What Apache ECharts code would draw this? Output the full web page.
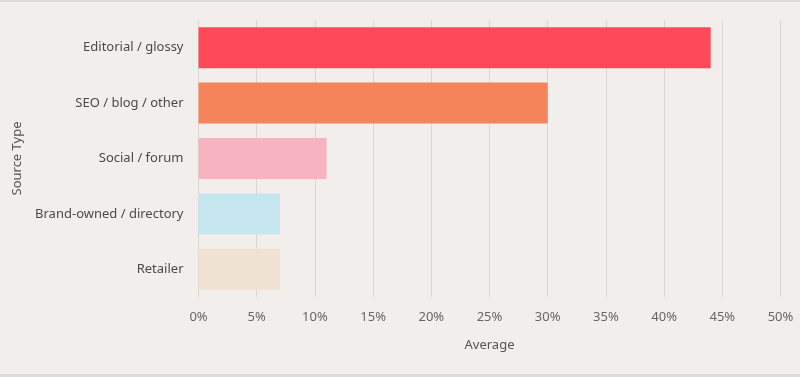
<!DOCTYPE html>
<html>
<head>
<meta charset="utf-8">
<script src="https://cdn.jsdelivr.net/npm/echarts@6/dist/echarts.min.js"></script>
<style>
  html, body { margin: 0; padding: 0; background: #dedbd8; }
  #main { width: 800px; height: 372px; margin-top: 2px; background: #f2eeeb; }
</style>
</head>
<body>
<div id="main"></div>
<script>
// data, top to bottom as shown
const categories = ['Editorial / glossy', 'SEO / blog / other', 'Social / forum', 'Brand-owned / directory', 'Retailer'];
const values = [44, 30, 11, 7, 7];
const barColors = ['#fe4a58', '#f6845a', '#f7b3c0', '#c5e6ee', '#f0e2d2'];
const xTicks = { min: 0, max: 50, interval: 5 };

const chart = echarts.init(document.getElementById('main'));

const option = {
  backgroundColor: '#f2eeeb',
  animation: false,
  grid: { left: 198.5, right: 19.5, top: 18, bottom: 77 },
  xAxis: {
    type: 'value',
    min: xTicks.min,
    max: xTicks.max,
    interval: xTicks.interval,
    name: 'Average',
    nameLocation: 'middle',
    nameGap: 42,
    nameTextStyle: { fontFamily: 'Noto Sans', fontSize: 13, color: '#555' },
    axisLine: { show: false },
    axisTick: { show: false },
    axisLabel: { formatter: '{value}%', fontFamily: 'Noto Sans', fontSize: 13, color: '#666', margin: 14 },
    splitLine: { lineStyle: { color: '#d9d6d3', width: 1 } }
  },
  yAxis: {
    type: 'category',
    inverse: true,
    data: categories,
    name: 'Source Type',
    nameLocation: 'middle',
    nameGap: 172,
    nameRotate: 90,
    nameTextStyle: { fontFamily: 'Noto Sans', fontSize: 13, color: '#555' },
    axisLine: { show: false },
    axisTick: { show: false },
    axisLabel: { fontFamily: 'Noto Sans', fontSize: 13, color: '#4a4a4a', margin: 15 }
  },
  series: [{
    type: 'bar',
    data: values.map((v, i) => ({ value: v, itemStyle: { color: barColors[i] } })),
    barCategoryGap: '26%'
  }]
};

chart.setOption(option);
</script>
</body>
</html>
